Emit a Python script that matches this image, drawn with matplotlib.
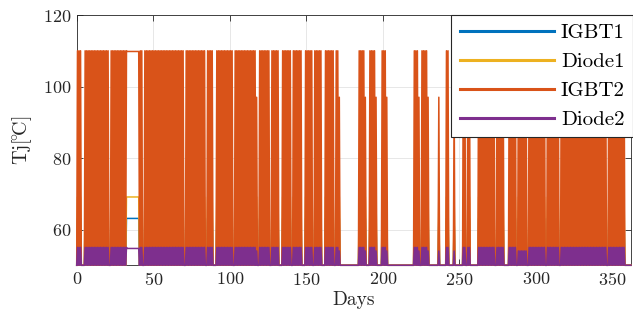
import numpy as np
import matplotlib.pyplot as plt

plt.rcParams['font.family'] = 'serif'
plt.rcParams['font.serif'] = ['cmr10']
plt.rcParams['mathtext.fontset'] = 'cm'
plt.rcParams['axes.unicode_minus'] = False
plt.rcParams['axes.formatter.use_mathtext'] = True

# Operating periods (days) with the daily peak junction temperatures
run_start = [0, 5, 22, 41, 44, 71, 85, 91, 103, 117, 119, 127, 134, 141, 149, 155, 162, 169, 171,
             184, 188, 191, 195, 199, 202, 220, 223, 225, 229, 236, 241, 246, 252, 255, 262, 274,
             282, 288, 295, 307, 316, 347]
run_end = [3, 21, 33, 43, 70, 84, 89, 102, 117, 118, 126, 132, 140, 147, 154, 160, 168, 171, 172,
           188, 189, 195, 196, 202, 203, 223, 224, 229, 230, 237, 243, 247, 254, 257, 273, 279,
           287, 294, 306, 315, 346, 358]
igbt2_peak = [110, 110, 110, 110, 110, 110, 110, 110, 110, 97, 110, 110, 110, 110, 110, 110, 110, 110, 97,
              110, 97, 110, 97, 110, 97, 110, 97, 110, 97, 97, 110, 97, 110, 110, 110, 110,
              110, 110, 110, 110, 110, 110]
diode2_peak = [55, 55, 55, 55, 55, 55, 55, 55, 55, 54, 55, 55, 55, 55, 55, 55, 55, 55, 54,
               55, 54, 55, 54, 55, 54, 55, 54, 55, 54, 54, 55, 54, 55, 55, 55, 55,
               55, 54, 55, 55, 55, 55]
igbt1_peak = 63.1
diode1_peak = 69.1

# days where the logged temperatures are held constant
hold_start, hold_end = 33, 41
hold_igbt1, hold_diode1, hold_igbt2, hold_diode2 = 63.1, 69.1, 109.8, 54.7

t_ambient = 50
n_days = 362


def daily_cycles(peaks, hold_value):
    peak = np.full(n_days, float(t_ambient))
    for s, e, p in zip(run_start, run_end, peaks):
        peak[s:e] = p
    t, v = [], []
    for d in range(n_days):
        if hold_start <= d < hold_end:
            t += [d, d + 0.5]
            v += [hold_value, hold_value]
        else:
            t += [d, d + 0.5]
            v += [t_ambient, peak[d]]
    t.append(n_days)
    v.append(t_ambient)
    return np.array(t), np.array(v)


series = [
    ('IGBT1', '#0072BD', daily_cycles([igbt1_peak] * len(run_start), hold_igbt1)),
    ('Diode1', '#EDB120', daily_cycles([diode1_peak] * len(run_start), hold_diode1)),
    ('IGBT2', '#D95319', daily_cycles(igbt2_peak, hold_igbt2)),
    ('Diode2', '#7E2F8E', daily_cycles(diode2_peak, hold_diode2)),
]

fig = plt.figure(figsize=(6.33, 3.22), dpi=100)
ax = fig.add_axes([0.1212, 0.1762, 0.9968 - 0.1212, 0.9534 - 0.1762])

for name, color, (t, v) in series:
    ax.plot(t, v, color=color, lw=1.1, label=name, zorder=3, clip_on=False)

ax.set_xlim(0, n_days)
ax.set_ylim(50, 120)
ax.set_xticks(np.arange(0, 351, 50))
ax.set_yticks([60, 80, 100, 120])
ax.grid(True, color='#e3e3e3', lw=0.6, zorder=0)
ax.set_axisbelow(True)
for sp in ax.spines.values():
    sp.set_color('#262626')
    sp.set_linewidth(0.6)
ax.tick_params(direction='in', top=True, right=True, length=4, width=0.6,
               colors='#262626', labelsize=13, pad=4)

ax.set_xlabel('Days', fontsize=14, color='#262626', labelpad=2)
ax.set_ylabel(r'$\mathrm{Tj}[\!^{\circ}\!\mathrm{C}]$', fontsize=14.5, color='#262626', labelpad=6)

leg = ax.legend(loc='upper right', bbox_to_anchor=(1.0, 0.9534), bbox_transform=fig.transFigure,
                borderaxespad=0, fontsize=15, handlelength=4.5, handletextpad=0.35,
                labelspacing=0.5, borderpad=0.4, fancybox=False, framealpha=1,
                edgecolor='#262626')
leg.get_frame().set_linewidth(0.8)
leg.set_zorder(10)
for line in leg.get_lines():
    line.set_linewidth(2.2)

fig.savefig('out.png', dpi=100)
